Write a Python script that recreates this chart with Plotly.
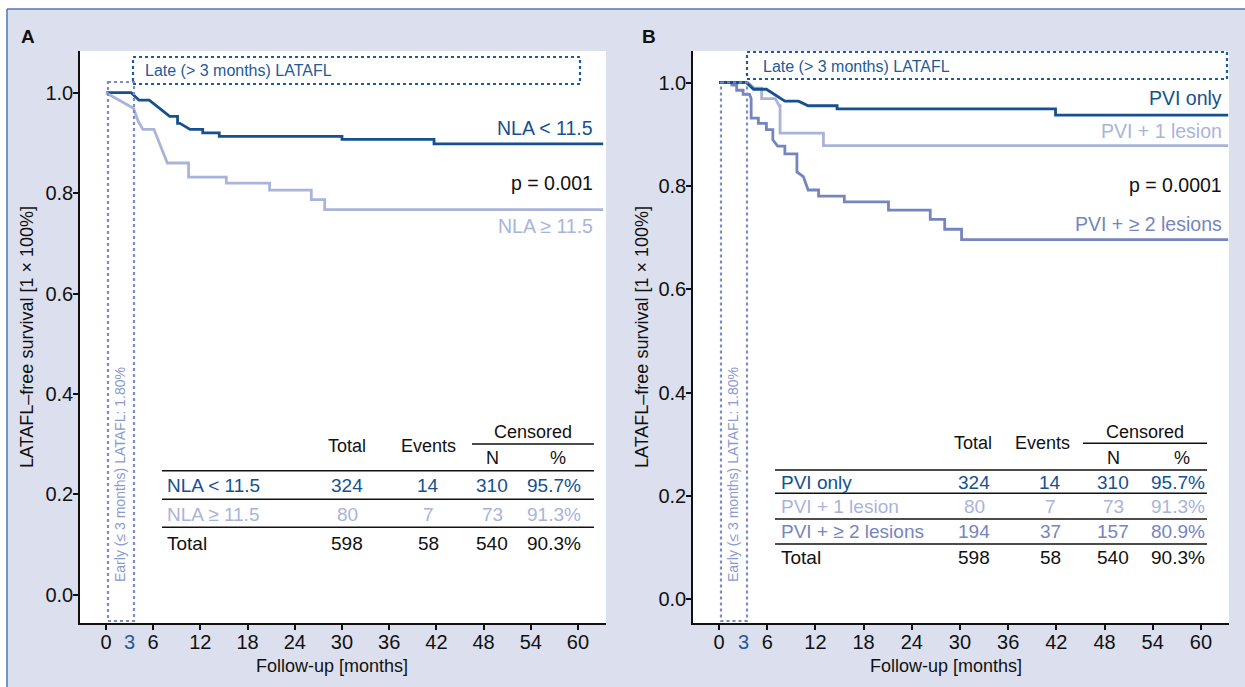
import plotly.graph_objects as go

W, H = 1245, 687

# ---------------- data ----------------
month_ticks = [0, 6, 12, 18, 24, 30, 36, 42, 48, 54, 60]
surv_ticks = [0.0, 0.2, 0.4, 0.6, 0.8, 1.0]
surv_tick_text = ["0.0", "0.2", "0.4", "0.6", "0.8", "1.0"]

# Panel A: NLA < 11.5
a_low_t = [0, 3.2, 4.2, 5.5, 8.1, 9.1, 9.1, 9.4, 10.7, 12.3, 12.3, 14.4, 14.4, 30.0, 30.0, 41.7, 41.7, 63.2]
a_low_s = [1.0, 1.0, 0.985, 0.985, 0.953, 0.953, 0.939, 0.939, 0.927, 0.927, 0.920, 0.920, 0.913, 0.913, 0.907, 0.907, 0.898, 0.898]
# Panel A: NLA >= 11.5
a_high_t = [0, 3.5, 4.1, 4.7, 6.1, 7.8, 10.5, 10.5, 15.3, 15.3, 20.8, 20.8, 26.1, 26.1, 27.8, 27.8, 63.2]
a_high_s = [1.0, 0.969, 0.943, 0.927, 0.927, 0.860, 0.860, 0.832, 0.832, 0.820, 0.820, 0.806, 0.806, 0.787, 0.787, 0.767, 0.767]

# Panel B: PVI only
b_pvi_t = [0, 3.4, 4.3, 5.9, 8.2, 9.9, 11.1, 14.7, 14.7, 41.9, 41.9, 63.4]
b_pvi_s = [1.0, 1.0, 0.987, 0.987, 0.964, 0.964, 0.955, 0.955, 0.949, 0.949, 0.937, 0.937]
# Panel B: PVI + 1 lesion
b_one_t = [0, 3.6, 4.4, 5.3, 5.3, 7.0, 7.5, 7.6, 7.6, 13.0, 13.0, 63.4]
b_one_s = [1.0, 1.0, 0.989, 0.989, 0.969, 0.969, 0.955, 0.955, 0.902, 0.902, 0.878, 0.878]
# Panel B: PVI + >= 2 lesions
b_two_t = [0, 1.6, 1.6, 2.2, 2.2, 3.0, 3.0, 3.8, 4.0, 4.0, 4.9, 4.9, 5.9, 5.9, 6.7, 6.7, 7.3, 8.2, 8.2,
           9.7, 9.7, 10.5, 11.1, 12.4, 12.4, 15.6, 15.6, 21.1, 21.1, 26.3, 26.3, 28.1, 28.1, 30.2, 30.2, 63.4]
b_two_s = [1.0, 1.0, 0.995, 0.995, 0.985, 0.985, 0.977, 0.977, 0.969, 0.931, 0.931, 0.921, 0.921, 0.909, 0.909,
           0.889, 0.877, 0.877, 0.862, 0.862, 0.827, 0.818, 0.792, 0.792, 0.780, 0.780, 0.769, 0.769, 0.753,
           0.753, 0.735, 0.735, 0.716, 0.716, 0.696, 0.696]

a_rows = ["NLA &lt; 11.5", "NLA ≥ 11.5", "Total"]
a_total = [324, 80, 598]
a_events = [14, 7, 58]
a_cens_n = [310, 73, 540]
a_cens_pct = ["95.7%", "91.3%", "90.3%"]

b_rows = ["PVI only", "PVI + 1 lesion", "PVI + ≥ 2 lesions", "Total"]
b_total = [324, 80, 194, 598]
b_events = [14, 7, 37, 58]
b_cens_n = [310, 73, 157, 540]
b_cens_pct = ["95.7%", "91.3%", "80.9%", "90.3%"]

a_p_text = "p = 0.001"
b_p_text = "p = 0.0001"

# ---------------- style ----------------
FONT = "Liberation Sans, Arial, sans-serif"
DARK = "#16508F"
LIGHT = "#A9B4DA"
MID = "#7585BE"
BOXDARK = "#1F5A9A"
BOXLIGHT = "#7B8CC8"
EARLYTXT = "#8A99CE"
BG = "#DCE0EE"
BLACK = "#111111"


def X(p):
    return p / W


def Y(p):
    return 1 - p / H


fig = go.Figure()

for t, s, c, ax in [(a_low_t, a_low_s, DARK, "1"), (a_high_t, a_high_s, LIGHT, "1"),
                    (b_two_t, b_two_s, MID, "2"), (b_one_t, b_one_s, LIGHT, "2"),
                    (b_pvi_t, b_pvi_s, DARK, "2")]:
    fig.add_trace(go.Scatter(x=t, y=s, mode="lines", line=dict(color=c, width=2.8),
                             xaxis="x" if ax == "1" else "x2",
                             yaxis="y" if ax == "1" else "y2",
                             hoverinfo="skip", showlegend=False))

annotations = []
shapes = []


def txt(x, y, s, color=BLACK, size=19, xanchor="center", angle=0, yanchor="middle"):
    annotations.append(dict(x=X(x), y=Y(y), xref="paper", yref="paper", text=s, showarrow=False,
                            xanchor=xanchor, yanchor=yanchor, textangle=angle,
                            font=dict(family=FONT, size=size, color=color)))


def hline(x0, x1, y, color=BLACK, width=1.5, dash=None):
    shapes.append(dict(type="line", xref="paper", yref="paper", x0=X(x0), x1=X(x1), y0=Y(y), y1=Y(y),
                       line=dict(color=color, width=width, dash=dash or "solid")))


def vline(x, y0, y1, color=BLACK, width=1.5, dash=None):
    shapes.append(dict(type="line", xref="paper", yref="paper", x0=X(x), x1=X(x), y0=Y(y0), y1=Y(y1),
                       line=dict(color=color, width=width, dash=dash or "solid")))


def box(x0, y0, x1, y1, color):
    shapes.append(dict(type="rect", xref="paper", yref="paper", x0=X(x0), x1=X(x1), y0=Y(y0), y1=Y(y1),
                       line=dict(color=color, width=2.2, dash="dot"), fillcolor="rgba(0,0,0,0)"))


# outer frame
shapes.append(dict(type="rect", xref="paper", yref="paper", x0=0, x1=1, y0=Y(9), y1=1,
                   fillcolor="white", line=dict(width=0), layer="below"))
shapes.append(dict(type="rect", xref="paper", yref="paper", x0=0, x1=X(7), y0=0, y1=1,
                   fillcolor="white", line=dict(width=0), layer="below"))
hline(7, W, 9, color="#4A78B5", width=1.5)
vline(7, 9, H, color="#4A78B5", width=1.5)

# panel letters
txt(27.5, 36, "<b>A</b>", size=19)
txt(649, 36, "<b>B</b>", size=19)

# axis titles
txt(27, 337, "LATAFL–free survival [1 × 100%]", size=18, angle=-90)
txt(642, 337, "LATAFL–free survival [1 × 100%]", size=18, angle=-90)
txt(332, 666, "Follow-up [months]", size=18)
txt(946, 666, "Follow-up [months]", size=18)

# blue "3" tick labels
annotations.append(dict(x=3, y=Y(642), xref="x", yref="paper", text="3", showarrow=False,
                        font=dict(family=FONT, size=20, color=BOXDARK), yanchor="middle"))
annotations.append(dict(x=3, y=Y(642), xref="x2", yref="paper", text="3", showarrow=False,
                        font=dict(family=FONT, size=20, color=BOXDARK), yanchor="middle"))

# dotted boxes, panel A
box(108, 82, 134, 621, BOXLIGHT)
box(133, 57, 580, 84, BOXDARK)
txt(143, 71, "Late (&gt; 3 months) LATAFL", color=BOXDARK, size=16, xanchor="left")
txt(120, 475, "Early (≤ 3 months) LATAFL: 1.80%", color=EARLYTXT, size=14, angle=-90)

# dotted boxes, panel B
box(721, 82.5, 747, 621, BOXLIGHT)
box(747, 52, 1227, 79, BOXDARK)
txt(761, 66, "Late (&gt; 3 months) LATAFL", color=BOXDARK, size=16, xanchor="left")
txt(733, 475, "Early (≤ 3 months) LATAFL: 1.80%", color=EARLYTXT, size=14, angle=-90)

# curve labels A
txt(595, 128, "NLA &lt; 11.5", color=DARK, size=19.5, xanchor="right")
txt(595, 183, a_p_text, color=BLACK, size=19.5, xanchor="right")
txt(595, 226, "NLA ≥ 11.5", color=LIGHT, size=19.5, xanchor="right")

# curve labels B
txt(1224, 98, "PVI only", color=DARK, size=19.5, xanchor="right")
txt(1224, 131, "PVI + 1 lesion", color=LIGHT, size=19.5, xanchor="right")
txt(1224, 185, b_p_text, color=BLACK, size=19.5, xanchor="right")
txt(1224, 224, "PVI + ≥ 2 lesions", color=MID, size=19.5, xanchor="right")

# table A
txt(347, 446, "Total", size=18)
txt(429, 446, "Events", size=18)
txt(533, 432, "Censored", size=18)
hline(472, 594, 444)
txt(492, 458, "N", size=18)
txt(558, 458, "%", size=18)
hline(162, 594, 470.7)
a_colors = [DARK, LIGHT, BLACK]
a_row_y = [485, 514, 543]
for i, name in enumerate(a_rows):
    yy = a_row_y[i]
    c = a_colors[i]
    txt(165, yy, name, color=c, size=19, xanchor="left")
    txt(347, yy, str(a_total[i]), color=c, size=19)
    txt(428, yy, str(a_events[i]), color=c, size=19)
    txt(492, yy, str(a_cens_n[i]), color=c, size=19)
    txt(583, yy, a_cens_pct[i], color=c, size=19, xanchor="right")
hline(162, 594, 499.3)
hline(162, 594, 527.3)

# table B
txt(973, 443, "Total", size=18)
txt(1042, 443, "Events", size=18)
txt(1145, 432, "Censored", size=18)
hline(1083, 1207, 443.3)
txt(1113, 458, "N", size=18)
txt(1182, 458, "%", size=18)
hline(775, 1207, 470)
b_colors = [DARK, LIGHT, MID, BLACK]
b_row_y = [482.7, 506.7, 531.7, 557.3]
for i, name in enumerate(b_rows):
    yy = b_row_y[i]
    c = b_colors[i]
    txt(779, yy, name, color=c, size=19, xanchor="left")
    txt(974, yy, str(b_total[i]), color=c, size=19)
    txt(1050, yy, str(b_events[i]), color=c, size=19)
    txt(1113, yy, str(b_cens_n[i]), color=c, size=19)
    txt(1207, yy, b_cens_pct[i], color=c, size=19, xanchor="right")
hline(775, 1207, 493.3)
hline(775, 1207, 519)
hline(775, 1207, 544)

axis_common = dict(showline=True, linecolor=BLACK, linewidth=1.5, ticks="outside", ticklen=5,
                   tickwidth=1.5, tickcolor=BLACK, showgrid=False, zeroline=False,
                   tickfont=dict(family=FONT, size=20, color=BLACK), fixedrange=True)
xax = dict(axis_common, ticklabelstandoff=-5)
yax = dict(axis_common, ticklabelstandoff=-4)

fig.update_layout(
    width=W, height=H,
    margin=dict(l=0, r=0, t=0, b=0),
    paper_bgcolor=BG, plot_bgcolor="white",
    showlegend=False,
    font=dict(family=FONT, color=BLACK),
    xaxis=dict(domain=[X(80), X(606)], range=[-3.3, 63.56], tickvals=month_ticks, anchor="y", **xax),
    yaxis=dict(domain=[Y(623), Y(51)], range=[-0.056, 1.083], tickvals=surv_ticks, ticktext=surv_tick_text,
               anchor="x", **yax),
    xaxis2=dict(domain=[X(693), X(1229)], range=[-3.24, 63.5], tickvals=month_ticks, anchor="y2", **xax),
    yaxis2=dict(domain=[Y(623), Y(51)], range=[-0.046, 1.061], tickvals=surv_ticks, ticktext=surv_tick_text,
                anchor="x2", **yax),
    annotations=annotations,
    shapes=shapes,
)

fig.write_html("out.html", config={"displayModeBar": False},
               post_script="document.body.style.margin='0';document.body.style.overflow='hidden';")
